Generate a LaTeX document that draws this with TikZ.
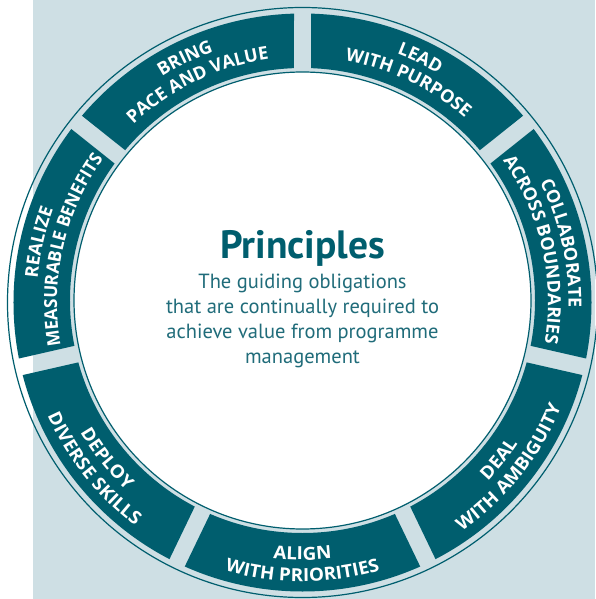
\documentclass[tikz,border=0pt]{standalone}
\usepackage{fontspec}
\usetikzlibrary{calc,decorations.text}
\newfontfamily\lblfwide[FakeStretch=1.05]{Open Sans}
\newfontfamily\lblfmid[FakeStretch=1.0]{Open Sans}
\newfontfamily\lblfnarrow[FakeStretch=0.95]{Open Sans}
\newfontfamily\ptsans{PT Sans}
\definecolor{ringc}{RGB}{0,94,110}
\definecolor{bgc}{RGB}{206,223,228}
\definecolor{titlec}{RGB}{0,94,110}
\definecolor{bodyc}{RGB}{32,108,122}
% clockwise arc text (letters' tops point outward)
\newcommand\arctextcw[4][\lblfmid]{%
  \pgfmathsetmacro\myS{#2+32}\pgfmathsetmacro\myE{#2-32}%
  \path[decorate,decoration={text along path,text align=center,text color=white,
        text={|#1\bfseries\fontsize{18pt}{21pt}\selectfont|#4}}]
    (\myS:#3pt) arc[start angle=\myS,end angle=\myE,radius=#3pt];}
% counter-clockwise arc text (letters' tops point to the centre)
\newcommand\arctextccw[4][\lblfwide]{%
  \pgfmathsetmacro\myS{#2-32}\pgfmathsetmacro\myE{#2+32}%
  \path[decorate,decoration={text along path,text align=center,text color=white,
        text={|#1\bfseries\fontsize{18pt}{21pt}\selectfont|#4}}]
    (\myS:#3pt) arc[start angle=\myS,end angle=\myE,radius=#3pt];}
\tikzset{
  ringline/.style={draw=ringc,line width=1.2pt},
  titletext/.style={font=\ptsans\bfseries\fontsize{39.5pt}{44pt}\selectfont,text=titlec,anchor=base,inner sep=0pt},
  bodytext/.style={font=\ptsans\fontsize{20.5pt}{24pt}\selectfont,text=bodyc,anchor=base,inner sep=0pt}
}
\begin{document}
\begin{tikzpicture}[x=1pt,y=1pt]
\useasboundingbox (-302.5,-296.5) rectangle (292.5,302.5);
\fill[white] (-302.5,-296.5) rectangle (292.5,302.5);
\fill[bgc] (-269.5,-296.5) rectangle (292.5,302.5);
% outer thin circle
\draw[ringline] (0,0) circle[radius=295pt];
% segments
\foreach \j in {0,...,6}{
  \pgfmathsetmacro\ga{90+\j*360/7}
  \pgfmathsetmacro\gb{\ga+360/7}
  \pgfmathsetmacro\gc{\ga+180/7}
  \pgfmathsetmacro\gap{\ga+90}
  \pgfmathsetmacro\gbm{\gb-90}
  \begin{scope}
    \clip (\gc:19.6pt) -- ($(\ga:400pt)+(\gap:8.5pt)$) -- (\gc:450pt) -- ($(\gb:400pt)+(\gbm:8.5pt)$) -- cycle;
    \fill[ringc,even odd rule] (0,0) circle[radius=289pt] (0,2) circle[radius=232.5pt];
  \end{scope}
}
% inner white circle
\draw[ringline,fill=white] (0,2) circle[radius=228.5pt];
% labels
\arctextcw{115.714}{266}{BRING}
\arctextcw{115.714}{245.5}{PACE AND VALUE}
\arctextcw{64.286}{266}{LEAD}
\arctextcw{64.286}{245.5}{WITH PURPOSE}
\arctextcw{12.857}{266}{COLLABORATE}
\arctextcw{12.857}{245.5}{ACROSS BOUNDARIES}
\arctextcw{167.143}{266}{REALIZE}
\arctextcw[\lblfnarrow]{167.143}{245.5}{MEASURABLE BENEFITS}
\arctextccw{321.429}{257.5}{DEAL}
\arctextccw{321.429}{279}{WITH AMBIGUITY}
\arctextccw{270}{257.5}{ALIGN}
\arctextccw{270}{279}{WITH PRIORITIES}
\arctextccw{218.571}{257.5}{DEPLOY}
\arctextccw{218.571}{279}{DIVERSE SKILLS}
% centre text
\node[titletext] (title) at (0,44.2) {Principles};
\node[bodytext] (body1) at (0,14.2) {The guiding obligations};
\node[bodytext] (body2) at (0,-10.8) {that are continually required to};
\node[bodytext] (body3) at (0,-35.8) {achieve value from programme};
\node[bodytext] (body4) at (0,-60.8) {management};
\end{tikzpicture}
\end{document}
